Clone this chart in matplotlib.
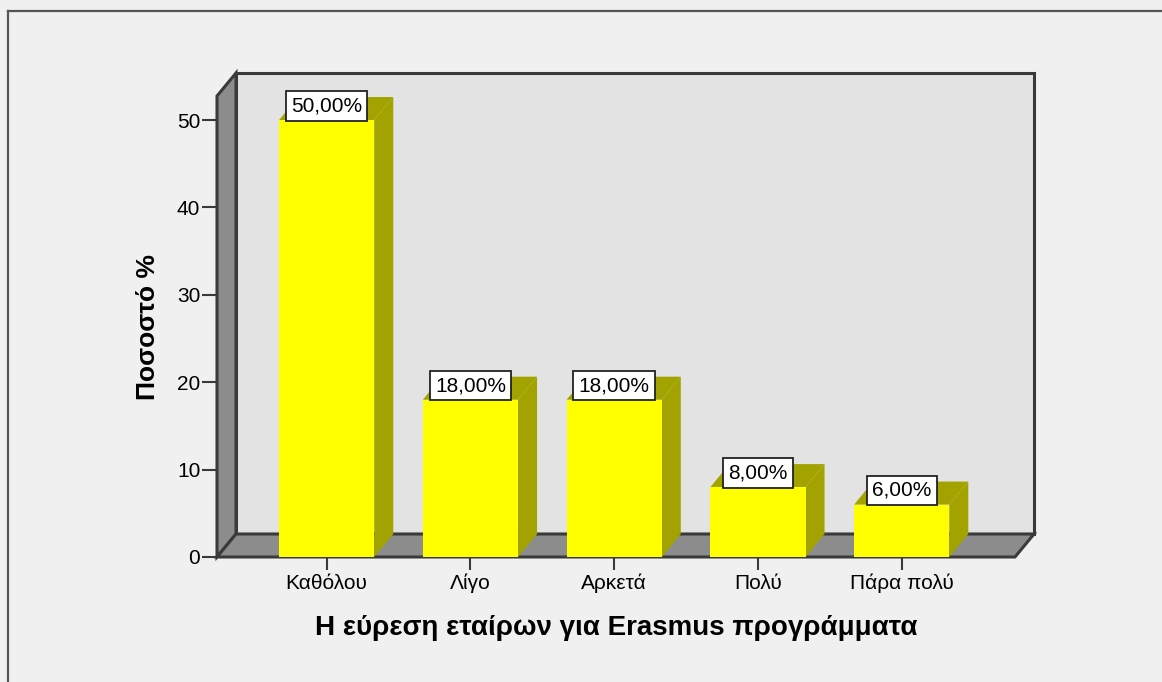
import matplotlib
matplotlib.use("Agg")
import matplotlib.pyplot as plt
from matplotlib.patches import Polygon
from matplotlib.lines import Line2D
from matplotlib.transforms import IdentityTransform

# data
categories = ["Καθόλου", "Λίγο", "Αρκετά", "Πολύ", "Πάρα πολύ"]
percent = [50, 18, 18, 8, 6]
yticks = [0, 10, 20, 30, 40, 50]
xlabel = "Η εύρεση εταίρων για Erasmus προγράμματα"
ylabel = "Ποσοστό %"

# styling
BG = "#f0f0f0"
WALL = "#e3e3e3"
SIDE = "#8c8c8c"
EDGE = "#3a3a3a"
BAR = "#ffff00"
BAR_DARK = "#a3a300"
DX, DY = 19, 23          # depth offset in pixels
BAR_W = 0.662
YTOP = 52.75

plt.rcParams["font.family"] = ["Liberation Sans", "DejaVu Sans"]

fig = plt.figure(figsize=(11.62, 6.82), dpi=100, facecolor=BG)
ax = fig.add_axes([217 / 1162, 125 / 682, 798 / 1162, 461 / 682])
ax.set_xlim(-0.763, 4.788)
ax.set_ylim(0, YTOP)
ax.patch.set_visible(False)
for s in ax.spines.values():
    s.set_visible(False)


def face(pts, fc, lw=0.0, ec=None, z=1):
    """pts: list of (x, y, depth) with depth 0 = front, 1 = back."""
    disp = []
    for x, y, d in pts:
        px, py = ax.transData.transform((x, y))
        disp.append((px + d * DX, py + d * DY))
    p = Polygon(disp, closed=True, facecolor=fc, edgecolor=ec if ec else fc,
                linewidth=lw, transform=IdentityTransform(), clip_on=False,
                zorder=z, joinstyle="miter")
    ax.add_patch(p)


x0, x1 = ax.get_xlim()
# back wall, left wall, floor
face([(x0, 0, 1), (x1, 0, 1), (x1, YTOP, 1), (x0, YTOP, 1)], WALL, 2.2, EDGE, 1)
face([(x0, 0, 0), (x0, YTOP, 0), (x0, YTOP, 1), (x0, 0, 1)], SIDE, 2.2, EDGE, 1.1)
face([(x0, 0, 0), (x1, 0, 0), (x1, 0, 1), (x0, 0, 1)], SIDE, 2.2, EDGE, 1.1)

# bars
for i, v in enumerate(percent):
    l, r = i - BAR_W / 2, i + BAR_W / 2
    face([(r, 0, 0), (r, v, 0), (r, v, 1), (r, 0, 1)], BAR_DARK, z=2)
    face([(l, v, 0), (r, v, 0), (r, v, 1), (l, v, 1)], BAR_DARK, z=2)
    face([(l, 0, 0), (r, 0, 0), (r, v, 0), (l, v, 0)], BAR, z=3)
    ax.annotate(f"{v:.2f}%".replace(".", ","), (i, v), xytext=(0, 3.3),
                textcoords="offset points", ha="center", va="bottom",
                fontsize=15, zorder=5,
                bbox=dict(boxstyle="square,pad=0.25", fc="white", ec="#222222", lw=1.3))

ax.set_yticks(yticks)
ax.set_xticks(range(len(categories)))
ax.set_xticklabels(categories)
ax.tick_params(axis="y", direction="out", length=10.5, width=1.5, color=EDGE,
               labelsize=15, pad=1.5)
ax.tick_params(axis="x", direction="out", length=9, width=1.5, color=EDGE,
               labelsize=15, pad=3)
ax.set_xlabel(xlabel, fontsize=20, fontweight="bold", labelpad=16)
ax.set_ylabel(ylabel, fontsize=19, fontweight="bold", labelpad=12)

# outer frame (only left and top visible in the crop)
fig.add_artist(Line2D([8 / 1162, 8 / 1162], [0, 1 - 11 / 682], color="#555555", lw=1.6))
fig.add_artist(Line2D([8 / 1162, 1], [1 - 11 / 682, 1 - 11 / 682], color="#555555", lw=1.6))

fig.savefig("out.png", dpi=100, facecolor=BG)
